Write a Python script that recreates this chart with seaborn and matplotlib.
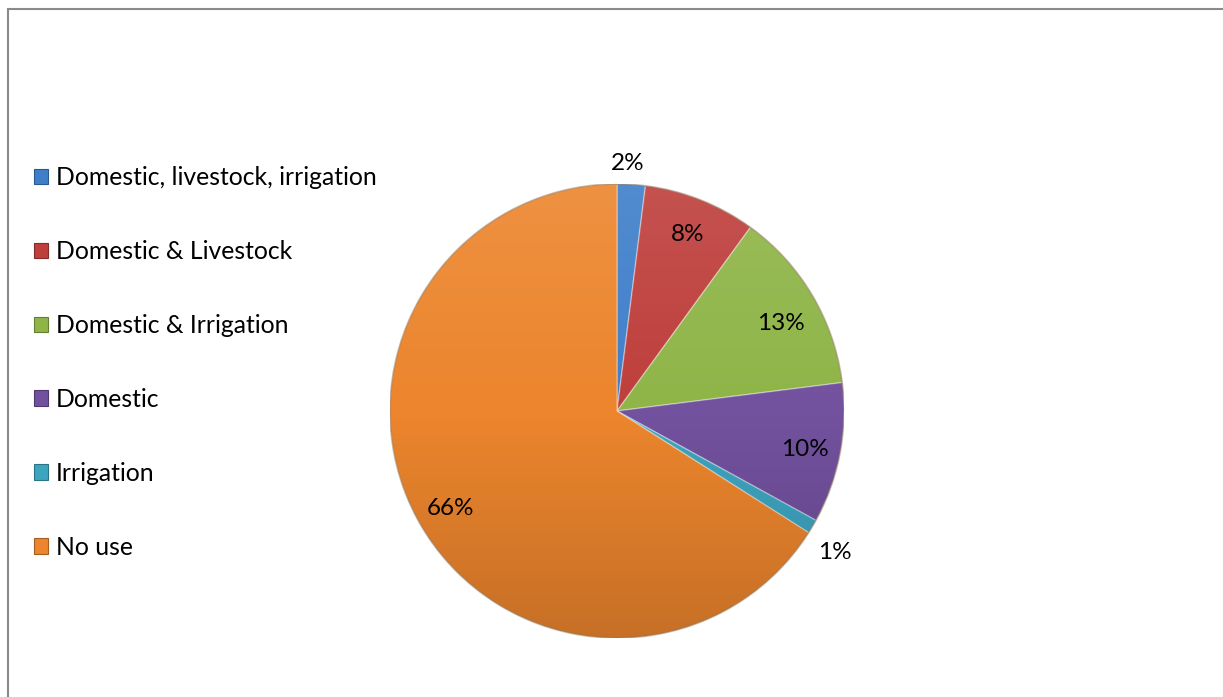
import numpy as np
import matplotlib
matplotlib.use("Agg")
import matplotlib.pyplot as plt
from matplotlib.patches import Patch, Circle
from matplotlib.lines import Line2D
import seaborn as sns

# Water use categories and their shares (%)
categories = ["Domestic, livestock, irrigation", "Domestic & Livestock",
              "Domestic & Irrigation", "Domestic", "Irrigation", "No use"]
shares = [2, 8, 13, 10, 1, 66]
colors = ["#3f7fca", "#be3f3c", "#8fb548", "#72519e", "#3ea5c0", "#ec852d"]

# Label placement: radial distance (in radii) and angular nudge (degrees)
label_radius = [1.10, 0.845, 0.825, 0.845, 1.14, 0.845]
label_nudge = [-1.1, 0.0, 1.8, 0.0, 2.0, -1.0]

sns.set_theme(style="white")
plt.rcParams["font.family"] = ["Lato", "DejaVu Sans"]
plt.rcParams["text.color"] = "black"

W, H = 1223, 697
fig = plt.figure(figsize=(W / 100, H / 100), dpi=100)
fig.patch.set_facecolor("white")

# Pie axes: centre (617, 411) px, radius 227 px
cx, cy, r = 617, 411, 227
ax = fig.add_axes([(cx - r) / W, (H - cy - r) / H, 2 * r / W, 2 * r / H])
ax.set_xlim(-1, 1)
ax.set_ylim(-1, 1)
ax.set_aspect("equal")
ax.axis("off")

wedges, _ = ax.pie(shares, colors=colors, startangle=90, counterclock=False,
                   radius=1.0, center=(0, 0),
                   wedgeprops=dict(edgecolor=(1, 1, 1, 0.35), linewidth=1.0))
ax.set_xlim(-1, 1)
ax.set_ylim(-1, 1)

# Vertical shading over the pie: lighter on top, darker at the bottom
grad = np.linspace(0, 1, 256)
rgba = np.zeros((256, 1, 4))
top = grad < 0.5
rgba[top, 0, 0:3] = 1.0
rgba[top, 0, 3] = 0.10 * (0.5 - grad[top]) * 2
rgba[~top, 0, 3] = 0.16 * (grad[~top] - 0.5) * 2
im = ax.imshow(rgba, extent=(-1, 1, -1, 1), origin="upper", aspect="auto",
               zorder=3, interpolation="bilinear")
im.set_clip_path(Circle((0, 0), 1.0, transform=ax.transData))
ax.add_patch(Circle((0, 0), 1.0, fill=False, edgecolor=(0.4, 0.25, 0.1, 0.35),
                    linewidth=1.2, zorder=4))

# Percentage labels: inside for large slices, outside for the thin ones
for w, v, dist, nudge in zip(wedges, shares, label_radius, label_nudge):
    mid = np.deg2rad((w.theta1 + w.theta2) / 2 - nudge)
    ax.text(dist * np.cos(mid), dist * np.sin(mid) - 0.01, f"{v}%",
            ha="center", va="center", fontsize=17.5, color="black", zorder=5)

# Legend on the left
handles = [Patch(facecolor=c, edgecolor=matplotlib.colors.to_hex(
    np.array(matplotlib.colors.to_rgb(c)) * 0.7), linewidth=0.8) for c in colors]
leg = fig.legend(handles, categories, loc="upper left",
                 bbox_to_anchor=(34 / W, 1 - 166 / H), frameon=False,
                 fontsize=17.8, labelspacing=2.06, handlelength=0.57,
                 handleheight=0.57, handletextpad=0.3, borderaxespad=0,
                 borderpad=0)
for t in leg.get_texts():
    t.set_color("black")

# Chart frame (top and left edges)
fig.add_artist(Line2D([8 / W, 1.0], [1 - 9 / H, 1 - 9 / H], color="#8a8a8a",
                      linewidth=1.5, transform=fig.transFigure))
fig.add_artist(Line2D([8 / W, 8 / W], [0, 1 - 9 / H], color="#8a8a8a",
                      linewidth=1.5, transform=fig.transFigure))

fig.savefig("out.png", dpi=100)
